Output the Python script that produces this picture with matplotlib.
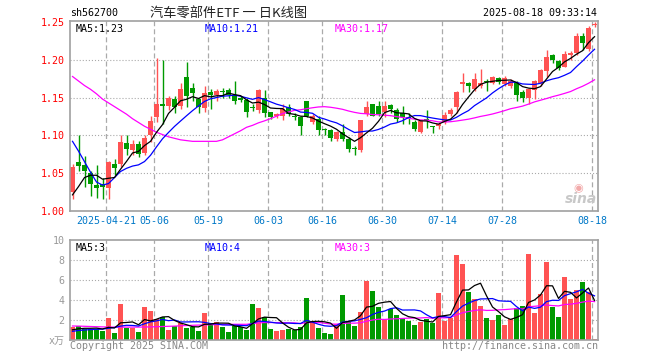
import numpy as np
import pandas as pd
import matplotlib
matplotlib.use("Agg")
import matplotlib.pyplot as plt

# ── fonts / style ─────────────────────────────────────────────────────────────
plt.rcParams["font.family"] = ["DejaVu Sans Mono", "Noto Sans CJK SC"]
plt.rcParams["lines.scale_dashes"] = False

RED = "#ff5353"
GREEN = "#009a00"
GRID = "#aaaaaa"
FRAME = "#a0a0a0"

# ── data ──────────────────────────────────────────────────────────────────────
open_ = [1.025, 1.064, 1.060, 1.050, 1.034, 1.035, 1.030, 1.062, 1.062, 1.090,
         1.080, 1.088, 1.077, 1.101, 1.124, 1.142, 1.139, 1.148, 1.139, 1.177,
         1.163, 1.148, 1.136, 1.158, 1.153, 1.159, 1.160, 1.153, 1.149, 1.147,
         1.138, 1.134, 1.149, 1.131, 1.125, 1.126, 1.138, 1.125, 1.124, 1.145,
         1.118, 1.122, 1.108, 1.107, 1.095, 1.104, 1.095, 1.083, 1.080, 1.128,
         1.141, 1.139, 1.131, 1.140, 1.134, 1.130, 1.124, 1.118, 1.105, 1.122,
         1.112, 1.112, 1.118, 1.128, 1.137, 1.168, 1.170, 1.161, 1.165, 1.172,
         1.170, 1.176, 1.168, 1.166, 1.169, 1.158, 1.150, 1.160, 1.170, 1.185,
         1.206, 1.199, 1.191, 1.207, 1.209, 1.232, 1.215, 1.246]
high = [1.062, 1.100, 1.073, 1.052, 1.061, 1.044, 1.066, 1.068, 1.100, 1.100,
        1.094, 1.093, 1.100, 1.125, 1.202, 1.200, 1.152, 1.152, 1.170, 1.197,
        1.170, 1.150, 1.165, 1.162, 1.161, 1.163, 1.163, 1.172, 1.152, 1.149,
        1.142, 1.162, 1.160, 1.131, 1.130, 1.141, 1.142, 1.129, 1.126, 1.146,
        1.128, 1.125, 1.110, 1.108, 1.106, 1.115, 1.098, 1.086, 1.120, 1.146,
        1.142, 1.145, 1.145, 1.142, 1.136, 1.139, 1.129, 1.120, 1.120, 1.133,
        1.113, 1.117, 1.131, 1.136, 1.159, 1.183, 1.171, 1.183, 1.188, 1.175,
        1.178, 1.177, 1.179, 1.175, 1.172, 1.160, 1.163, 1.174, 1.188, 1.213,
        1.208, 1.200, 1.212, 1.212, 1.236, 1.236, 1.245, 1.250]
low = [1.015, 1.053, 1.032, 1.019, 1.017, 1.016, 1.015, 1.048, 1.058, 1.074,
       1.074, 1.071, 1.074, 1.091, 1.118, 1.115, 1.133, 1.130, 1.135, 1.138,
       1.145, 1.130, 1.131, 1.135, 1.146, 1.150, 1.150, 1.142, 1.144, 1.124,
       1.132, 1.130, 1.124, 1.122, 1.123, 1.120, 1.126, 1.120, 1.100, 1.124,
       1.115, 1.100, 1.100, 1.093, 1.093, 1.093, 1.078, 1.074, 1.078, 1.126,
       1.125, 1.126, 1.124, 1.130, 1.118, 1.115, 1.115, 1.106, 1.103, 1.110,
       1.103, 1.108, 1.115, 1.126, 1.129, 1.158, 1.158, 1.159, 1.163, 1.159,
       1.168, 1.168, 1.166, 1.163, 1.146, 1.144, 1.142, 1.148, 1.166, 1.177,
       1.196, 1.186, 1.190, 1.200, 1.207, 1.213, 1.212, 1.243]
close = [1.058, 1.059, 1.052, 1.036, 1.030, 1.032, 1.065, 1.057, 1.091, 1.082,
         1.088, 1.075, 1.096, 1.119, 1.142, 1.139, 1.149, 1.137, 1.162, 1.152,
         1.156, 1.137, 1.156, 1.154, 1.159, 1.157, 1.154, 1.146, 1.147, 1.131,
         1.136, 1.160, 1.130, 1.124, 1.128, 1.135, 1.128, 1.124, 1.112, 1.126,
         1.125, 1.107, 1.107, 1.096, 1.105, 1.095, 1.082, 1.082, 1.120, 1.137,
         1.126, 1.128, 1.139, 1.135, 1.121, 1.124, 1.123, 1.109, 1.119, 1.120,
         1.111, 1.115, 1.127, 1.134, 1.157, 1.171, 1.165, 1.175, 1.170, 1.171,
         1.177, 1.171, 1.176, 1.172, 1.154, 1.150, 1.161, 1.172, 1.186, 1.204,
         1.200, 1.189, 1.208, 1.209, 1.232, 1.223, 1.242, 1.248]
volume = [1.37, 1.43, 1.10, 1.10, 1.10, 0.93, 2.27, 0.77, 3.67, 1.27,
          1.20, 0.87, 3.37, 2.97, 2.13, 2.33, 1.03, 1.47, 1.70, 1.27,
          1.33, 0.93, 2.77, 1.77, 1.80, 1.33, 0.87, 1.43, 1.33, 1.03,
          3.63, 3.27, 2.33, 1.13, 0.93, 1.03, 1.13, 1.00, 1.33, 4.23,
          1.70, 1.23, 0.77, 0.67, 1.63, 4.53, 1.87, 1.47, 2.80, 5.93,
          4.93, 3.37, 2.03, 3.13, 2.53, 2.20, 1.93, 1.53, 1.80, 2.10,
          1.77, 4.73, 1.93, 2.27, 8.53, 7.63, 4.83, 4.13, 3.43, 2.23,
          2.03, 2.53, 1.53, 2.13, 3.20, 3.43, 8.63, 2.77, 4.63, 7.83,
          3.37, 2.33, 6.33, 4.13, 5.03, 5.83, 4.83, 0.13]

# moving-average values before a full window exists
ma5_head = [1.021, 1.032, 1.044, 1.047]
ma10_head = [1.092, 1.079, 1.065, 1.051, 1.038, 1.034, 1.036, 1.044, 1.052]
ma30_head = [1.178, 1.172, 1.166, 1.161, 1.155, 1.148, 1.143, 1.138, 1.133, 1.128,
             1.122, 1.117, 1.112, 1.108, 1.104, 1.101, 1.098, 1.096, 1.094, 1.093,
             1.092, 1.092, 1.092, 1.092, 1.092, 1.094, 1.098, 1.102, 1.106]
vma5_head = [1.05, 1.15, 1.20, 1.20]
vma10_head = [0.90, 0.98, 1.03, 1.07, 1.10, 1.12, 1.20, 1.28, 1.42]
vma30_head = [1.43, 1.42, 1.40, 1.38, 1.36, 1.34, 1.33, 1.32, 1.32, 1.32,
              1.32, 1.32, 1.33, 1.34, 1.36, 1.38, 1.40, 1.42, 1.45, 1.48,
              1.50, 1.52, 1.54, 1.56, 1.57, 1.58, 1.59, 1.60, 1.60]

tick_idx = [6, 14, 23, 33, 42, 52, 62, 72, 87]
tick_labels = ["2025-04-21", "05-06", "05-19", "06-03", "06-16",
               "06-30", "07-14", "07-28", "08-18"]
price_ticks = [1.00, 1.05, 1.10, 1.15, 1.20, 1.25]
vol_ticks = [0, 2, 4, 6, 8, 10]
vol_tick_labels = ["x万", "2", "4", "6", "8", "10"]


def moving(values, n, head):
    out = pd.Series(values).rolling(n).mean().to_numpy()
    out[:n - 1] = head
    return out


o = np.array(open_)
c = np.array(close)
h = np.array(high)
l = np.array(low)
v = np.array(volume)
x = np.arange(len(c))
colors = np.where(c >= o, RED, GREEN)

ma5, ma10, ma30 = moving(c, 5, ma5_head), moving(c, 10, ma10_head), moving(c, 30, ma30_head)
vma5, vma10, vma30 = moving(v, 5, vma5_head), moving(v, 10, vma10_head), moving(v, 30, vma30_head)

# ── layout (pixel boxes) ──────────────────────────────────────────────────────
W, H = 660, 360
fig = plt.figure(figsize=(W / 100, H / 100), dpi=100)


def box(left, top, right, bottom):
    return [left / W, 1 - bottom / H, (right - left) / W, (bottom - top) / H]


def ftext(px, py, s, **kw):
    fig.text(px / W, 1 - py / H, s, **kw)


ax = fig.add_axes(box(70, 20.7, 598, 210.7))
axv = fig.add_axes(box(70, 240.3, 598, 340.3))

xlim = (-0.42, len(c) - 0.42)
grid_x = [i - 0.42 for i in tick_idx]

for a in (ax, axv):
    a.set_xlim(*xlim)
    for s in a.spines.values():
        s.set_color(FRAME)
        s.set_linewidth(1.2)
    for gx in grid_x:
        a.axvline(gx, color=GRID, lw=0.9, ls=(0, (3.6, 2.2)), zorder=0)
    a.tick_params(length=0)

# ── price panel ───────────────────────────────────────────────────────────────
ax.set_ylim(1.0, 1.252)
for gy in price_ticks[1:-1]:
    ax.axhline(gy, color=GRID, lw=0.8, ls=(0, (0.8, 1.4)), zorder=0)
ax.vlines(x, l, h, colors=colors, lw=1.0, zorder=2)
body_low = np.minimum(o, c)
body_h = np.maximum(np.abs(c - o), 0.0012)
ax.bar(x, body_h, bottom=body_low, width=0.78, color=colors, lw=0, zorder=2)
ax.plot(x, ma30, color="#ff00ff", lw=0.9, zorder=3)
ax.plot(x, ma10, color="#0000ff", lw=0.9, zorder=3)
ax.plot(x, ma5, color="black", lw=0.9, zorder=4)

ax.set_yticks(price_ticks)
ax.set_yticklabels([f"{t:.2f}" for t in price_ticks], color="red", fontsize=7.2)
ax.tick_params(axis="y", pad=4)
ax.set_xticks(grid_x)
ax.set_xticklabels(tick_labels, color="#0078c8", fontsize=7.2)
ax.tick_params(axis="x", pad=4)

ax.text(0.01, 0.985, f"MA5:{ma5[-1]:.2f}", transform=ax.transAxes,
        ha="left", va="top", fontsize=7.2, color="black")
ax.text(0.2557, 0.985, f"MA10:{ma10[-1]:.2f}", transform=ax.transAxes,
        ha="left", va="top", fontsize=7.2, color="#0000ff")
ax.text(0.502, 0.985, f"MA30:{ma30[-1]:.2f}", transform=ax.transAxes,
        ha="left", va="top", fontsize=7.2, color="#ff00ff")

# sina watermark
ftext(581, 199, "sina", ha="center", va="center", fontsize=10,
      family="DejaVu Sans", weight="bold", style="italic", color="#c8c8c8")
ftext(578, 188, "◉", ha="center", va="center", fontsize=8,
      family="DejaVu Sans", color="#f2aaaa")

# ── volume panel ──────────────────────────────────────────────────────────────
axv.set_ylim(0, 10)
for gy in vol_ticks[1:-1]:
    axv.axhline(gy, color=GRID, lw=0.8, ls=(0, (0.8, 1.4)), zorder=0)
axv.bar(x, v, width=0.78, color=colors, lw=0, zorder=2)
axv.plot(x, vma30, color="#ff00ff", lw=0.9, zorder=3)
axv.plot(x, vma10, color="#0000ff", lw=0.9, zorder=3)
axv.plot(x, vma5, color="black", lw=0.9, zorder=4)
axv.set_xticks([])
axv.set_yticks(vol_ticks)
axv.set_yticklabels(vol_tick_labels, color="#999999", fontsize=7.2)
axv.tick_params(axis="y", pad=4)

axv.text(0.01, 0.975, f"MA5:{int(vma5[-1])}", transform=axv.transAxes,
         ha="left", va="top", fontsize=7.2, color="black")
axv.text(0.2557, 0.975, f"MA10:{int(vma10[-1])}", transform=axv.transAxes,
         ha="left", va="top", fontsize=7.2, color="#0000ff")
axv.text(0.502, 0.975, f"MA30:{int(vma30[-1])}", transform=axv.transAxes,
         ha="left", va="top", fontsize=7.2, color="#ff00ff")

# ── header / footer ───────────────────────────────────────────────────────────
ftext(70, 13, "sh562700", ha="left", va="center", fontsize=7.2, color="black")
ftext(150, 13, "汽车零部件ETF 一 日K线图", ha="left", va="center", fontsize=9.5,
      family=["Noto Sans CJK SC", "DejaVu Sans"], color="#222222")
ftext(597, 13, "2025-08-18 09:33:14", ha="right", va="center", fontsize=7.2,
      color="black")
ftext(70, 346, "Copyright 2025 SINA.COM", ha="left", va="center", fontsize=7.2,
      color="#888888")
ftext(598, 346, "http://finance.sina.com.cn", ha="right", va="center",
      fontsize=7.2, color="#888888")

fig.savefig("out.png", dpi=100)
